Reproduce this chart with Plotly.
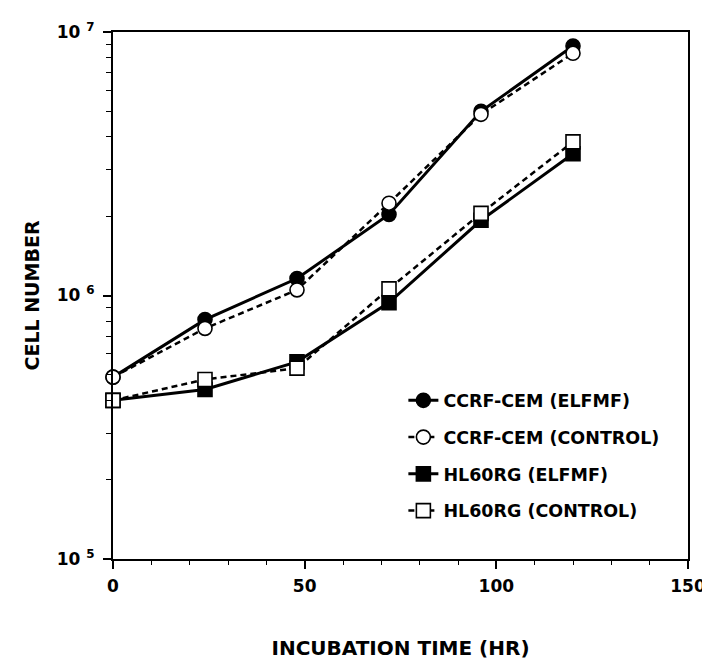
import plotly.graph_objects as go

hours = [0, 24, 48, 72, 96, 120]
ccrf_elfmf = [4.9e5, 8.1e5, 1.16e6, 2.03e6, 5.0e6, 8.85e6]
ccrf_control = [4.9e5, 7.5e5, 1.05e6, 2.24e6, 4.87e6, 8.3e6]
hl60_elfmf = [4.0e5, 4.4e5, 5.6e5, 9.4e5, 1.93e6, 3.45e6]
hl60_control = [4.0e5, 4.8e5, 5.3e5, 1.06e6, 2.05e6, 3.83e6]

y_tickvals = [1e5, 1e6, 1e7]
y_ticktext = ["10 <sup>5</sup>", "10 <sup>6</sup>", "10 <sup>7</sup>"]
x_tickvals = [0, 50, 100, 150]

FONT = "DejaVu Sans"

fig = go.Figure()

series = [
    ("CCRF-CEM (ELFMF)", ccrf_elfmf, "solid", "circle", "black"),
    ("HL60RG (ELFMF)", hl60_elfmf, "solid", "square", "black"),
    ("CCRF-CEM (CONTROL)", ccrf_control, "6px,4px", "circle", "white"),
    ("HL60RG (CONTROL)", hl60_control, "6px,4px", "square", "white"),
]
legend_rank = {"CCRF-CEM (ELFMF)": 1, "CCRF-CEM (CONTROL)": 2,
               "HL60RG (ELFMF)": 3, "HL60RG (CONTROL)": 4}

for name, vals, dash, sym, fill in series:
    fig.add_trace(go.Scatter(
        x=hours, y=vals, name=name, mode="lines+markers",
        line=dict(color="black", width=3 if dash == "solid" else 2.5, dash=dash),
        marker=dict(symbol=sym, size=14, color=fill,
                    line=dict(color="black", width=1.6)),
        legendgroup=name, legendrank=legend_rank[name],
        cliponaxis=False,
    ))

fig.update_layout(
    width=710, height=660,
    margin=dict(l=105, r=18, t=19, b=101),
    paper_bgcolor="white", plot_bgcolor="white",
    font=dict(family=FONT, color="black", size=16, weight="bold"),
    showlegend=True,
    legend=dict(
        x=0.505, y=0.335, xanchor="left", yanchor="top",
        bgcolor="rgba(0,0,0,0)", tracegroupgap=11,
        font=dict(family=FONT, size=17.5, weight="bold"),
    ),
    xaxis=dict(
        range=[0, 150], tickvals=x_tickvals,
        ticks="outside", ticklen=8, tickwidth=1.5, tickcolor="black",
        ticklabelstandoff=3,
        minor=dict(dtick=10, tick0=0, ticks="outside", ticklen=4,
                   tickwidth=1.2, tickcolor="black", showgrid=False),
        showline=True, linecolor="black", linewidth=2, mirror=True,
        showgrid=False, zeroline=False,
        tickfont=dict(family=FONT, size=17, weight="bold"),
        title=dict(text="INCUBATION TIME (HR)", standoff=46,
                   font=dict(family=FONT, size=20, weight="bold")),
    ),
    yaxis=dict(
        type="log", range=[5, 7],
        tickvals=y_tickvals, ticktext=y_ticktext,
        ticks="outside", ticklen=8, tickwidth=1.5, tickcolor="black",
        ticklabelstandoff=5,
        minor=dict(tickvals=[m * 10 ** e for e in (5, 6) for m in range(2, 10)],
                   ticks="outside", ticklen=5, tickwidth=1.2,
                   tickcolor="black", showgrid=False),
        showline=True, linecolor="black", linewidth=2, mirror=True,
        showgrid=False, zeroline=False,
        tickfont=dict(family=FONT, size=17, weight="bold"),
        title=dict(text="CELL NUMBER", standoff=12,
                   font=dict(family=FONT, size=19, weight="bold")),
    ),
)

fig.write_html("out.html")
